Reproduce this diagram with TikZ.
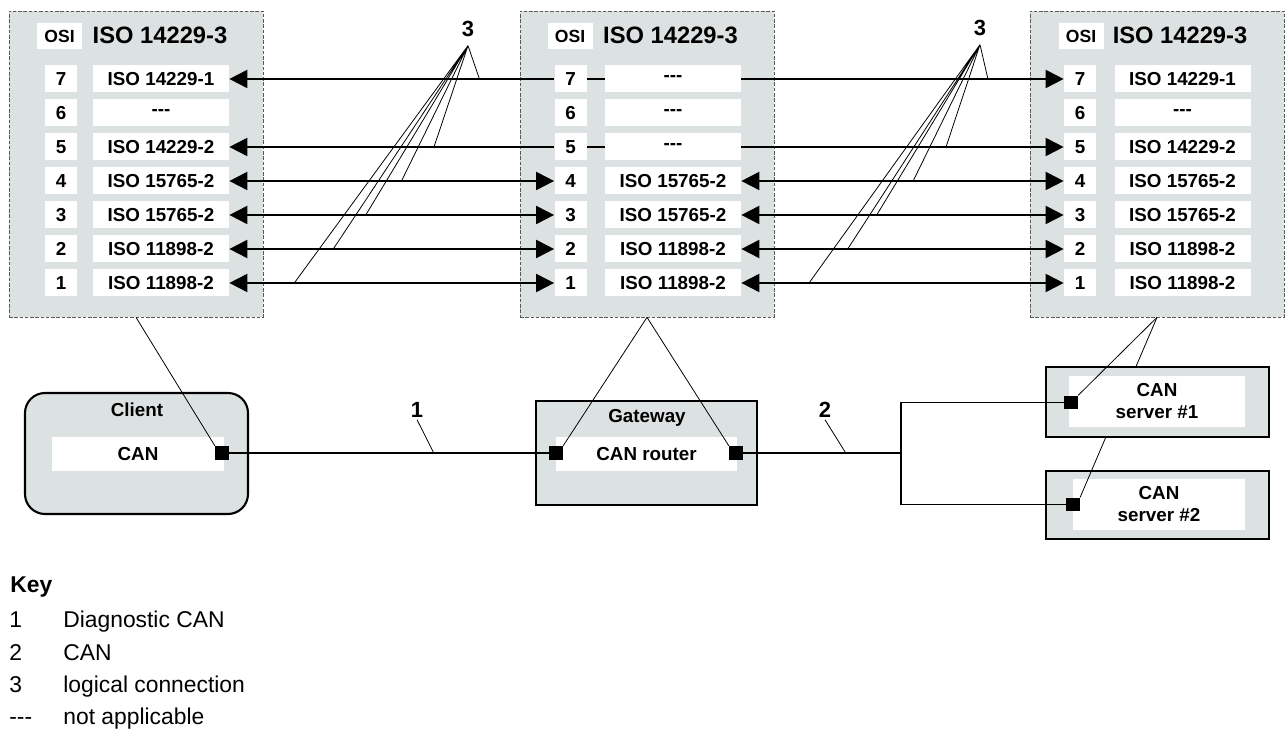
\documentclass[tikz,border=0pt]{standalone}
\usepackage{fontspec}
\setmainfont{Liberation Sans}
\usetikzlibrary{arrows.meta}
\definecolor{osigray}{RGB}{220,226,226}

\begin{document}
\begin{tikzpicture}[
    font=\bfseries\fontsize{10.7}{12.5}\selectfont,
    >={Triangle[length=3.6mm,width=3.6mm]},
    osi/.style={draw=black!65, dash pattern=on 2pt off 1pt, fill=osigray,
                minimum width=5.08cm, minimum height=6.12cm, inner sep=0pt},
    tag/.style={fill=white, minimum width=9mm, minimum height=5.2mm, inner sep=0pt,
                font=\bfseries\fontsize{10}{12}\selectfont},
    head/.style={inner sep=0pt, font=\bfseries\fontsize{13.5}{15}\selectfont},
    num/.style={fill=white, minimum width=6.4mm, minimum height=5.4mm, inner sep=0pt},
    lay/.style={fill=white, minimum width=27.2mm, minimum height=5.4mm, inner sep=0pt},
    dev/.style={draw, line width=1.2pt, fill=osigray},
    inr/.style={fill=white, align=center, inner sep=0pt},
    port/.style={fill=black, minimum size=2.7mm, inner sep=0pt},
    sig/.style={line width=1.1pt},
    lead/.style={line width=0.45pt},
    callout/.style={inner sep=1pt, font=\bfseries\fontsize{12.5}{14}\selectfont},
    key/.style={anchor=base west, inner sep=0pt,
                font=\mdseries\fontsize{13}{15}\selectfont},
  ]
  \useasboundingbox (0,0) rectangle (25.72,-14.62);

  %% ---- OSI stacks --------------------------------------------------
  \node[osi] (OL) at ( 2.72,-3.28) {};
  \node[osi] (OM) at (12.94,-3.28) {};
  \node[osi] (OR) at (23.14,-3.28) {};

  \node[tag]  (OLt) at ( 1.19,-0.72) {OSI};
  \node[head] (OLh) at ( 3.20,-0.70) {ISO 14229-3};
  \node[tag]  (OMt) at (11.40,-0.72) {OSI};
  \node[head] (OMh) at (13.41,-0.70) {ISO 14229-3};
  \node[tag]  (ORt) at (21.62,-0.72) {OSI};
  \node[head] (ORh) at (23.60,-0.70) {ISO 14229-3};

  %% ---- client stack -------------------------------------------------
  \node[num] (L7) at (1.22,-1.58) {7}; \node[lay] (L7n) at (3.22,-1.58) {ISO 14229-1};
  \node[num] (L6) at (1.22,-2.26) {6}; \node[lay] (L6n) at (3.22,-2.26) {{-}{-}{-}};
  \node[num] (L5) at (1.22,-2.94) {5}; \node[lay] (L5n) at (3.22,-2.94) {ISO 14229-2};
  \node[num] (L4) at (1.22,-3.62) {4}; \node[lay] (L4n) at (3.22,-3.62) {ISO 15765-2};
  \node[num] (L3) at (1.22,-4.30) {3}; \node[lay] (L3n) at (3.22,-4.30) {ISO 15765-2};
  \node[num] (L2) at (1.22,-4.98) {2}; \node[lay] (L2n) at (3.22,-4.98) {ISO 11898-2};
  \node[num] (L1) at (1.22,-5.66) {1}; \node[lay] (L1n) at (3.22,-5.66) {ISO 11898-2};

  %% ---- gateway stack ------------------------------------------------
  \node[num] (M7) at (11.41,-1.58) {7}; \node[lay] (M7n) at (13.46,-1.58) {{-}{-}{-}};
  \node[num] (M6) at (11.41,-2.26) {6}; \node[lay] (M6n) at (13.46,-2.26) {{-}{-}{-}};
  \node[num] (M5) at (11.41,-2.94) {5}; \node[lay] (M5n) at (13.46,-2.94) {{-}{-}{-}};
  \node[num] (M4) at (11.41,-3.62) {4}; \node[lay] (M4n) at (13.46,-3.62) {ISO 15765-2};
  \node[num] (M3) at (11.41,-4.30) {3}; \node[lay] (M3n) at (13.46,-4.30) {ISO 15765-2};
  \node[num] (M2) at (11.41,-4.98) {2}; \node[lay] (M2n) at (13.46,-4.98) {ISO 11898-2};
  \node[num] (M1) at (11.41,-5.66) {1}; \node[lay] (M1n) at (13.46,-5.66) {ISO 11898-2};

  %% ---- server stack -------------------------------------------------
  \node[num] (R7) at (21.60,-1.58) {7}; \node[lay] (R7n) at (23.65,-1.58) {ISO 14229-1};
  \node[num] (R6) at (21.60,-2.26) {6}; \node[lay] (R6n) at (23.65,-2.26) {{-}{-}{-}};
  \node[num] (R5) at (21.60,-2.94) {5}; \node[lay] (R5n) at (23.65,-2.94) {ISO 14229-2};
  \node[num] (R4) at (21.60,-3.62) {4}; \node[lay] (R4n) at (23.65,-3.62) {ISO 15765-2};
  \node[num] (R3) at (21.60,-4.30) {3}; \node[lay] (R3n) at (23.65,-4.30) {ISO 15765-2};
  \node[num] (R2) at (21.60,-4.98) {2}; \node[lay] (R2n) at (23.65,-4.98) {ISO 11898-2};
  \node[num] (R1) at (21.60,-5.66) {1}; \node[lay] (R1n) at (23.65,-5.66) {ISO 11898-2};

  %% ---- logical connections ------------------------------------------
  \draw[sig,<-] (L7n) -- coordinate[pos=0.77] (a7) (M7);
  \draw[sig]    (M7) -- (M7n);
  \draw[sig,->] (M7n) -- coordinate[pos=0.765] (b7) (R7);
  \draw[sig,<-] (L5n) -- coordinate[pos=0.63] (a5) (M5);
  \draw[sig]    (M5) -- (M5n);
  \draw[sig,->] (M5n) -- coordinate[pos=0.635] (b5) (R5);
  \draw[sig,<->] (L4n) -- coordinate[pos=0.53] (a4) (M4);
  \draw[sig,<->] (M4n) -- coordinate[pos=0.533] (b4) (R4);
  \draw[sig,<->] (L3n) -- coordinate[pos=0.42] (a3) (M3);
  \draw[sig,<->] (M3n) -- coordinate[pos=0.42] (b3) (R3);
  \draw[sig,<->] (L2n) -- coordinate[pos=0.32] (a2) (M2);
  \draw[sig,<->] (M2n) -- coordinate[pos=0.33] (b2) (R2);
  \draw[sig,<->] (L1n) -- coordinate[pos=0.2] (a1) (M1);
  \draw[sig,<->] (M1n) -- coordinate[pos=0.21] (b1) (R1);

  \node[callout, inner ysep=1.8mm] (n3a) at ( 9.36,-0.57) {3};
  \node[callout, inner ysep=1.8mm] (n3b) at (19.60,-0.55) {3};
  \draw[lead] (n3a.south) -- (a7) (n3a.south) -- (a5) (n3a.south) -- (a4)
              (n3a.south) -- (a3) (n3a.south) -- (a2) (n3a.south) -- (a1);
  \draw[lead] (n3b.south) -- (b7) (n3b.south) -- (b5) (n3b.south) -- (b4)
              (n3b.south) -- (b3) (n3b.south) -- (b2) (n3b.south) -- (b1);

  %% ---- devices ------------------------------------------------------
  \node[dev, rounded corners=0.4cm, minimum width=4.46cm, minimum height=2.42cm]
       (cli) at (2.73,-9.07) {};
  \node (clit) at (2.74,-8.20) {Client};
  \node[inr, minimum width=3.44cm, minimum height=0.68cm] (clin) at (2.76,-9.08) {CAN};
  \node[port] (Cq) at (4.44,-9.06) {};

  \node[dev, minimum width=4.42cm, minimum height=2.08cm] (gw) at (12.93,-9.06) {};
  \node (gwt) at (12.94,-8.36) {Gateway};
  \node[inr, minimum width=3.62cm, minimum height=0.68cm] (gwn) at (12.93,-9.08) {CAN router};
  \node[port] (GLq) at (11.12,-9.06) {};
  \node[port] (GRq) at (14.72,-9.06) {};

  \node[dev, minimum width=4.46cm, minimum height=1.36cm] (srv2) at (23.15,-10.10) {};
  \node[inr, minimum width=3.44cm, minimum height=1.02cm] (srv2n) at (23.18,-10.09)
       {CAN\\server \#2};
  \node[port] (S2q) at (21.46,-10.09) {};
  \draw[lead] (OR.south) -- (S2q.north east);

  \node[dev, minimum width=4.46cm, minimum height=1.40cm] (srv1) at (23.15,-8.04) {};
  \node[inr, minimum width=3.52cm, minimum height=1.02cm] (srv1n) at (23.14,-8.03)
       {CAN\\server \#1};
  \node[port] (S1q) at (21.42,-8.05) {};
  \draw[lead] (OR.south) -- (S1q.north east);

  \draw[lead] (OL.south) -- (Cq.north west);
  \draw[lead] (OM.south) -- (GLq.north east);
  \draw[lead] (OM.south) -- (GRq.north west);

  %% ---- CAN lines ----------------------------------------------------
  \coordinate (bus) at (18.02,-9.06);
  \draw[sig] (Cq) -- coordinate[pos=0.64] (c1) (GLq);
  \draw[sig] (GRq) -- coordinate[pos=0.65] (c2) (bus);
  \draw[sig] (S1q) -| (bus) |- (S2q);

  \node[callout] (n1) at ( 8.34,-8.20) {1};
  \node[callout] (n2) at (16.50,-8.20) {2};
  \draw[lead] (n1.south) -- (c1);
  \draw[lead] (n2.south) -- (c2);

  %% ---- key ----------------------------------------------------------
  \node[key, font=\bfseries\fontsize{13}{15}\selectfont] (key) at (0.20,-11.86) {Key};
  \node[key] (k1) at (0.18,-12.55) {1};          \node[key] (k1t) at (1.26,-12.55) {Diagnostic CAN};
  \node[key] (k2) at (0.18,-13.20) {2};          \node[key] (k2t) at (1.26,-13.20) {CAN};
  \node[key] (k3) at (0.18,-13.85) {3};          \node[key] (k3t) at (1.26,-13.85) {logical connection};
  \node[key] (k4) at (0.18,-14.49) {{-}{-}{-}};  \node[key] (k4t) at (1.26,-14.49) {not applicable};

\end{tikzpicture}
\end{document}
